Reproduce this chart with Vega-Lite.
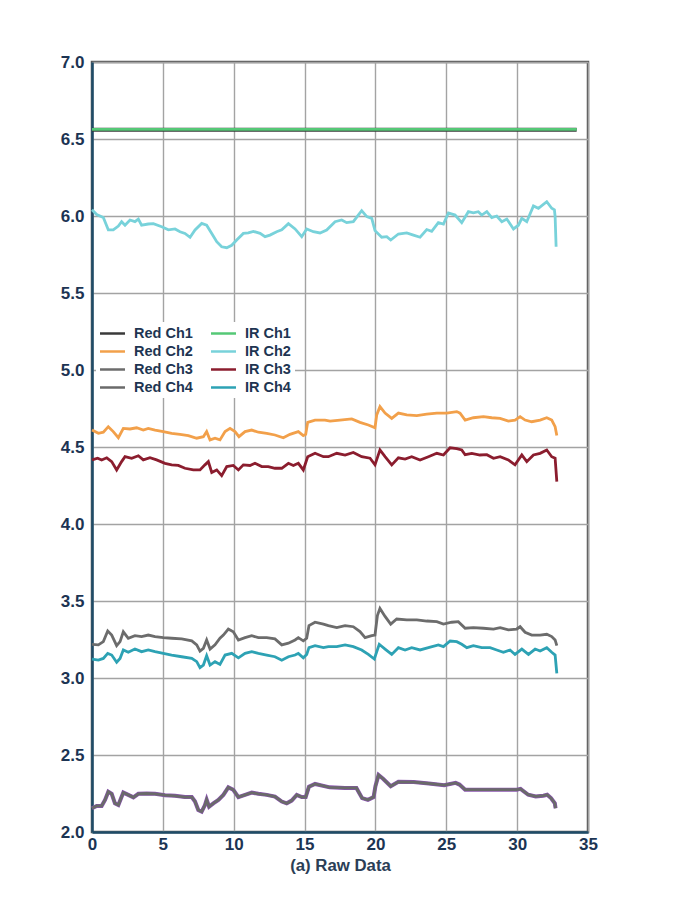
{
  "$schema": "https://vega.github.io/schema/vega-lite/v6.json",
  "autosize": {"type": "none"},
  "padding": {"left": 92, "top": 62, "right": 95, "bottom": 73},
  "width": 496,
  "height": 770,
  "background": "white",
  "data": {
    "values": [
      {"s": "Red Ch1", "t": 0, "v": 6.56}, {"s": "Red Ch1", "t": 34.2, "v": 6.56},
      {"s": "IR Ch1", "t": 0, "v": 6.563}, {"s": "IR Ch1", "t": 34.2, "v": 6.563},

      {"s": "IR Ch2", "t": 0, "v": 6.04}, {"s": "IR Ch2", "t": 0.33, "v": 6.01}, {"s": "IR Ch2", "t": 0.8, "v": 5.99}, {"s": "IR Ch2", "t": 1.15, "v": 5.91},
      {"s": "IR Ch2", "t": 1.5, "v": 5.91}, {"s": "IR Ch2", "t": 1.86, "v": 5.935}, {"s": "IR Ch2", "t": 2.09, "v": 5.963}, {"s": "IR Ch2", "t": 2.33, "v": 5.94},
      {"s": "IR Ch2", "t": 2.68, "v": 5.974}, {"s": "IR Ch2", "t": 3.03, "v": 5.963}, {"s": "IR Ch2", "t": 3.27, "v": 5.98}, {"s": "IR Ch2", "t": 3.5, "v": 5.94},
      {"s": "IR Ch2", "t": 3.97, "v": 5.948}, {"s": "IR Ch2", "t": 4.33, "v": 5.95}, {"s": "IR Ch2", "t": 4.92, "v": 5.93}, {"s": "IR Ch2", "t": 5.39, "v": 5.91},
      {"s": "IR Ch2", "t": 5.86, "v": 5.916}, {"s": "IR Ch2", "t": 6.21, "v": 5.898}, {"s": "IR Ch2", "t": 6.56, "v": 5.887}, {"s": "IR Ch2", "t": 6.92, "v": 5.862},
      {"s": "IR Ch2", "t": 7.27, "v": 5.909}, {"s": "IR Ch2", "t": 7.74, "v": 5.952}, {"s": "IR Ch2", "t": 8.09, "v": 5.94}, {"s": "IR Ch2", "t": 8.45, "v": 5.887},
      {"s": "IR Ch2", "t": 8.8, "v": 5.833}, {"s": "IR Ch2", "t": 9.15, "v": 5.8}, {"s": "IR Ch2", "t": 9.51, "v": 5.794}, {"s": "IR Ch2", "t": 9.86, "v": 5.81},
      {"s": "IR Ch2", "t": 10.21, "v": 5.844}, {"s": "IR Ch2", "t": 10.68, "v": 5.887}, {"s": "IR Ch2", "t": 11.03, "v": 5.89}, {"s": "IR Ch2", "t": 11.39, "v": 5.9},
      {"s": "IR Ch2", "t": 11.86, "v": 5.887}, {"s": "IR Ch2", "t": 12.21, "v": 5.866}, {"s": "IR Ch2", "t": 12.56, "v": 5.876}, {"s": "IR Ch2", "t": 13.03, "v": 5.898},
      {"s": "IR Ch2", "t": 13.39, "v": 5.91}, {"s": "IR Ch2", "t": 13.86, "v": 5.95}, {"s": "IR Ch2", "t": 14.33, "v": 5.916}, {"s": "IR Ch2", "t": 14.8, "v": 5.866},
      {"s": "IR Ch2", "t": 15.15, "v": 5.916}, {"s": "IR Ch2", "t": 15.62, "v": 5.898}, {"s": "IR Ch2", "t": 16.09, "v": 5.89}, {"s": "IR Ch2", "t": 16.56, "v": 5.909},
      {"s": "IR Ch2", "t": 17.15, "v": 5.963}, {"s": "IR Ch2", "t": 17.62, "v": 5.974}, {"s": "IR Ch2", "t": 17.97, "v": 5.957}, {"s": "IR Ch2", "t": 18.44, "v": 5.963},
      {"s": "IR Ch2", "t": 18.79, "v": 6.006}, {"s": "IR Ch2", "t": 19.03, "v": 6.035}, {"s": "IR Ch2", "t": 19.39, "v": 5.996}, {"s": "IR Ch2", "t": 19.74, "v": 5.985},
      {"s": "IR Ch2", "t": 19.97, "v": 5.905}, {"s": "IR Ch2", "t": 20.44, "v": 5.862}, {"s": "IR Ch2", "t": 20.8, "v": 5.866}, {"s": "IR Ch2", "t": 21.08, "v": 5.844},
      {"s": "IR Ch2", "t": 21.62, "v": 5.883}, {"s": "IR Ch2", "t": 22.21, "v": 5.89}, {"s": "IR Ch2", "t": 22.68, "v": 5.876}, {"s": "IR Ch2", "t": 23.15, "v": 5.862},
      {"s": "IR Ch2", "t": 23.62, "v": 5.912}, {"s": "IR Ch2", "t": 23.97, "v": 5.9}, {"s": "IR Ch2", "t": 24.44, "v": 5.957}, {"s": "IR Ch2", "t": 24.8, "v": 5.948},
      {"s": "IR Ch2", "t": 25.15, "v": 6.02}, {"s": "IR Ch2", "t": 25.62, "v": 6.006}, {"s": "IR Ch2", "t": 26.09, "v": 5.957}, {"s": "IR Ch2", "t": 26.56, "v": 6.028},
      {"s": "IR Ch2", "t": 26.91, "v": 6.02}, {"s": "IR Ch2", "t": 27.26, "v": 6.028}, {"s": "IR Ch2", "t": 27.5, "v": 6.006}, {"s": "IR Ch2", "t": 27.86, "v": 6.028},
      {"s": "IR Ch2", "t": 28.21, "v": 5.99}, {"s": "IR Ch2", "t": 28.56, "v": 6.0}, {"s": "IR Ch2", "t": 28.92, "v": 5.963}, {"s": "IR Ch2", "t": 29.27, "v": 5.98},
      {"s": "IR Ch2", "t": 29.74, "v": 5.916}, {"s": "IR Ch2", "t": 30.09, "v": 5.94}, {"s": "IR Ch2", "t": 30.33, "v": 5.985}, {"s": "IR Ch2", "t": 30.68, "v": 5.963},
      {"s": "IR Ch2", "t": 31.15, "v": 6.065}, {"s": "IR Ch2", "t": 31.5, "v": 6.05}, {"s": "IR Ch2", "t": 32.09, "v": 6.093}, {"s": "IR Ch2", "t": 32.44, "v": 6.05},
      {"s": "IR Ch2", "t": 32.63, "v": 6.04}, {"s": "IR Ch2", "t": 32.68, "v": 5.996}, {"s": "IR Ch2", "t": 32.75, "v": 5.8},

      {"s": "Red Ch2", "t": 0, "v": 4.61}, {"s": "Red Ch2", "t": 0.45, "v": 4.589}, {"s": "Red Ch2", "t": 0.8, "v": 4.596}, {"s": "Red Ch2", "t": 1.15, "v": 4.632},
      {"s": "Red Ch2", "t": 1.5, "v": 4.6}, {"s": "Red Ch2", "t": 1.86, "v": 4.56}, {"s": "Red Ch2", "t": 2.21, "v": 4.621}, {"s": "Red Ch2", "t": 2.68, "v": 4.617},
      {"s": "Red Ch2", "t": 3.15, "v": 4.625}, {"s": "Red Ch2", "t": 3.62, "v": 4.61}, {"s": "Red Ch2", "t": 3.97, "v": 4.621}, {"s": "Red Ch2", "t": 4.45, "v": 4.61},
      {"s": "Red Ch2", "t": 5.03, "v": 4.6}, {"s": "Red Ch2", "t": 5.62, "v": 4.589}, {"s": "Red Ch2", "t": 6.21, "v": 4.582}, {"s": "Red Ch2", "t": 6.8, "v": 4.574},
      {"s": "Red Ch2", "t": 7.39, "v": 4.557}, {"s": "Red Ch2", "t": 7.86, "v": 4.567}, {"s": "Red Ch2", "t": 8.09, "v": 4.6}, {"s": "Red Ch2", "t": 8.33, "v": 4.546},
      {"s": "Red Ch2", "t": 8.68, "v": 4.557}, {"s": "Red Ch2", "t": 9.03, "v": 4.546}, {"s": "Red Ch2", "t": 9.39, "v": 4.6}, {"s": "Red Ch2", "t": 9.74, "v": 4.621},
      {"s": "Red Ch2", "t": 10.09, "v": 4.6}, {"s": "Red Ch2", "t": 10.37, "v": 4.567}, {"s": "Red Ch2", "t": 10.8, "v": 4.6}, {"s": "Red Ch2", "t": 11.27, "v": 4.61},
      {"s": "Red Ch2", "t": 11.74, "v": 4.596}, {"s": "Red Ch2", "t": 12.33, "v": 4.589}, {"s": "Red Ch2", "t": 12.91, "v": 4.578}, {"s": "Red Ch2", "t": 13.5, "v": 4.56},
      {"s": "Red Ch2", "t": 13.97, "v": 4.582}, {"s": "Red Ch2", "t": 14.56, "v": 4.6}, {"s": "Red Ch2", "t": 14.91, "v": 4.574}, {"s": "Red Ch2", "t": 15.08, "v": 4.582},
      {"s": "Red Ch2", "t": 15.22, "v": 4.66}, {"s": "Red Ch2", "t": 15.74, "v": 4.675}, {"s": "Red Ch2", "t": 16.44, "v": 4.675}, {"s": "Red Ch2", "t": 16.8, "v": 4.668},
      {"s": "Red Ch2", "t": 17.5, "v": 4.675}, {"s": "Red Ch2", "t": 18.33, "v": 4.682}, {"s": "Red Ch2", "t": 18.91, "v": 4.66}, {"s": "Red Ch2", "t": 19.5, "v": 4.643},
      {"s": "Red Ch2", "t": 19.97, "v": 4.625}, {"s": "Red Ch2", "t": 20.09, "v": 4.708}, {"s": "Red Ch2", "t": 20.32, "v": 4.762}, {"s": "Red Ch2", "t": 20.68, "v": 4.72},
      {"s": "Red Ch2", "t": 21.15, "v": 4.686}, {"s": "Red Ch2", "t": 21.62, "v": 4.72}, {"s": "Red Ch2", "t": 22.21, "v": 4.708}, {"s": "Red Ch2", "t": 22.92, "v": 4.704},
      {"s": "Red Ch2", "t": 23.62, "v": 4.713}, {"s": "Red Ch2", "t": 24.33, "v": 4.72}, {"s": "Red Ch2", "t": 25.03, "v": 4.72}, {"s": "Red Ch2", "t": 25.74, "v": 4.73},
      {"s": "Red Ch2", "t": 25.97, "v": 4.72}, {"s": "Red Ch2", "t": 26.33, "v": 4.675}, {"s": "Red Ch2", "t": 26.91, "v": 4.69}, {"s": "Red Ch2", "t": 27.62, "v": 4.697},
      {"s": "Red Ch2", "t": 28.21, "v": 4.69}, {"s": "Red Ch2", "t": 28.8, "v": 4.686}, {"s": "Red Ch2", "t": 29.38, "v": 4.668}, {"s": "Red Ch2", "t": 29.85, "v": 4.675},
      {"s": "Red Ch2", "t": 30.21, "v": 4.697}, {"s": "Red Ch2", "t": 30.56, "v": 4.675}, {"s": "Red Ch2", "t": 31.03, "v": 4.664}, {"s": "Red Ch2", "t": 31.62, "v": 4.675},
      {"s": "Red Ch2", "t": 32.09, "v": 4.69}, {"s": "Red Ch2", "t": 32.44, "v": 4.675}, {"s": "Red Ch2", "t": 32.68, "v": 4.632}, {"s": "Red Ch2", "t": 32.8, "v": 4.574},

      {"s": "IR Ch3", "t": 0, "v": 4.416}, {"s": "IR Ch3", "t": 0.4, "v": 4.427}, {"s": "IR Ch3", "t": 0.68, "v": 4.416}, {"s": "IR Ch3", "t": 1.04, "v": 4.43},
      {"s": "IR Ch3", "t": 1.39, "v": 4.405}, {"s": "IR Ch3", "t": 1.74, "v": 4.351}, {"s": "IR Ch3", "t": 2.09, "v": 4.405}, {"s": "IR Ch3", "t": 2.33, "v": 4.437},
      {"s": "IR Ch3", "t": 2.8, "v": 4.427}, {"s": "IR Ch3", "t": 3.27, "v": 4.443}, {"s": "IR Ch3", "t": 3.62, "v": 4.416}, {"s": "IR Ch3", "t": 4.09, "v": 4.43},
      {"s": "IR Ch3", "t": 4.56, "v": 4.416}, {"s": "IR Ch3", "t": 5.15, "v": 4.394}, {"s": "IR Ch3", "t": 5.62, "v": 4.384}, {"s": "IR Ch3", "t": 6.09, "v": 4.38},
      {"s": "IR Ch3", "t": 6.56, "v": 4.362}, {"s": "IR Ch3", "t": 7.15, "v": 4.351}, {"s": "IR Ch3", "t": 7.62, "v": 4.351}, {"s": "IR Ch3", "t": 7.97, "v": 4.384},
      {"s": "IR Ch3", "t": 8.21, "v": 4.405}, {"s": "IR Ch3", "t": 8.45, "v": 4.335}, {"s": "IR Ch3", "t": 8.8, "v": 4.351}, {"s": "IR Ch3", "t": 9.15, "v": 4.314},
      {"s": "IR Ch3", "t": 9.51, "v": 4.373}, {"s": "IR Ch3", "t": 9.97, "v": 4.38}, {"s": "IR Ch3", "t": 10.33, "v": 4.351}, {"s": "IR Ch3", "t": 10.68, "v": 4.384},
      {"s": "IR Ch3", "t": 11.15, "v": 4.38}, {"s": "IR Ch3", "t": 11.5, "v": 4.394}, {"s": "IR Ch3", "t": 11.98, "v": 4.373}, {"s": "IR Ch3", "t": 12.44, "v": 4.373},
      {"s": "IR Ch3", "t": 12.91, "v": 4.362}, {"s": "IR Ch3", "t": 13.39, "v": 4.362}, {"s": "IR Ch3", "t": 13.86, "v": 4.394}, {"s": "IR Ch3", "t": 14.21, "v": 4.38},
      {"s": "IR Ch3", "t": 14.56, "v": 4.394}, {"s": "IR Ch3", "t": 14.91, "v": 4.351}, {"s": "IR Ch3", "t": 15.22, "v": 4.437}, {"s": "IR Ch3", "t": 15.74, "v": 4.459},
      {"s": "IR Ch3", "t": 16.33, "v": 4.437}, {"s": "IR Ch3", "t": 16.68, "v": 4.437}, {"s": "IR Ch3", "t": 17.27, "v": 4.459}, {"s": "IR Ch3", "t": 17.86, "v": 4.448},
      {"s": "IR Ch3", "t": 18.44, "v": 4.465}, {"s": "IR Ch3", "t": 19.03, "v": 4.437}, {"s": "IR Ch3", "t": 19.62, "v": 4.427}, {"s": "IR Ch3", "t": 19.97, "v": 4.384},
      {"s": "IR Ch3", "t": 20.32, "v": 4.481}, {"s": "IR Ch3", "t": 20.68, "v": 4.437}, {"s": "IR Ch3", "t": 21.15, "v": 4.384}, {"s": "IR Ch3", "t": 21.62, "v": 4.43},
      {"s": "IR Ch3", "t": 22.09, "v": 4.422}, {"s": "IR Ch3", "t": 22.56, "v": 4.437}, {"s": "IR Ch3", "t": 23.15, "v": 4.416}, {"s": "IR Ch3", "t": 23.74, "v": 4.437},
      {"s": "IR Ch3", "t": 24.33, "v": 4.459}, {"s": "IR Ch3", "t": 24.8, "v": 4.448}, {"s": "IR Ch3", "t": 25.27, "v": 4.495}, {"s": "IR Ch3", "t": 25.74, "v": 4.49},
      {"s": "IR Ch3", "t": 26.09, "v": 4.481}, {"s": "IR Ch3", "t": 26.33, "v": 4.45}, {"s": "IR Ch3", "t": 26.8, "v": 4.459}, {"s": "IR Ch3", "t": 27.38, "v": 4.448},
      {"s": "IR Ch3", "t": 27.86, "v": 4.45}, {"s": "IR Ch3", "t": 28.33, "v": 4.427}, {"s": "IR Ch3", "t": 28.8, "v": 4.437}, {"s": "IR Ch3", "t": 29.38, "v": 4.416},
      {"s": "IR Ch3", "t": 29.85, "v": 4.384}, {"s": "IR Ch3", "t": 30.33, "v": 4.448}, {"s": "IR Ch3", "t": 30.68, "v": 4.405}, {"s": "IR Ch3", "t": 31.15, "v": 4.448},
      {"s": "IR Ch3", "t": 31.62, "v": 4.459}, {"s": "IR Ch3", "t": 32.09, "v": 4.481}, {"s": "IR Ch3", "t": 32.44, "v": 4.437}, {"s": "IR Ch3", "t": 32.68, "v": 4.427},
      {"s": "IR Ch3", "t": 32.8, "v": 4.275},

      {"s": "Red Ch3", "t": 0, "v": 3.219}, {"s": "Red Ch3", "t": 0.45, "v": 3.215}, {"s": "Red Ch3", "t": 0.8, "v": 3.236}, {"s": "Red Ch3", "t": 1.11, "v": 3.305},
      {"s": "Red Ch3", "t": 1.39, "v": 3.279}, {"s": "Red Ch3", "t": 1.74, "v": 3.21}, {"s": "Red Ch3", "t": 1.98, "v": 3.236}, {"s": "Red Ch3", "t": 2.21, "v": 3.3},
      {"s": "Red Ch3", "t": 2.56, "v": 3.258}, {"s": "Red Ch3", "t": 3.03, "v": 3.275}, {"s": "Red Ch3", "t": 3.5, "v": 3.269}, {"s": "Red Ch3", "t": 3.97, "v": 3.279},
      {"s": "Red Ch3", "t": 4.45, "v": 3.269}, {"s": "Red Ch3", "t": 5.03, "v": 3.262}, {"s": "Red Ch3", "t": 5.62, "v": 3.258}, {"s": "Red Ch3", "t": 6.33, "v": 3.254},
      {"s": "Red Ch3", "t": 7.04, "v": 3.241}, {"s": "Red Ch3", "t": 7.39, "v": 3.215}, {"s": "Red Ch3", "t": 7.62, "v": 3.175}, {"s": "Red Ch3", "t": 7.86, "v": 3.193},
      {"s": "Red Ch3", "t": 8.09, "v": 3.247}, {"s": "Red Ch3", "t": 8.33, "v": 3.188}, {"s": "Red Ch3", "t": 8.68, "v": 3.215}, {"s": "Red Ch3", "t": 9.03, "v": 3.258},
      {"s": "Red Ch3", "t": 9.27, "v": 3.279}, {"s": "Red Ch3", "t": 9.62, "v": 3.318}, {"s": "Red Ch3", "t": 9.97, "v": 3.3}, {"s": "Red Ch3", "t": 10.33, "v": 3.247},
      {"s": "Red Ch3", "t": 10.8, "v": 3.262}, {"s": "Red Ch3", "t": 11.27, "v": 3.275}, {"s": "Red Ch3", "t": 11.74, "v": 3.262}, {"s": "Red Ch3", "t": 12.33, "v": 3.262},
      {"s": "Red Ch3", "t": 12.91, "v": 3.254}, {"s": "Red Ch3", "t": 13.39, "v": 3.215}, {"s": "Red Ch3", "t": 13.86, "v": 3.226}, {"s": "Red Ch3", "t": 14.33, "v": 3.247},
      {"s": "Red Ch3", "t": 14.56, "v": 3.262}, {"s": "Red Ch3", "t": 14.91, "v": 3.241}, {"s": "Red Ch3", "t": 15.15, "v": 3.258}, {"s": "Red Ch3", "t": 15.31, "v": 3.34},
      {"s": "Red Ch3", "t": 15.74, "v": 3.362}, {"s": "Red Ch3", "t": 16.33, "v": 3.35}, {"s": "Red Ch3", "t": 16.68, "v": 3.34}, {"s": "Red Ch3", "t": 17.27, "v": 3.327},
      {"s": "Red Ch3", "t": 17.86, "v": 3.34}, {"s": "Red Ch3", "t": 18.44, "v": 3.333}, {"s": "Red Ch3", "t": 18.91, "v": 3.301}, {"s": "Red Ch3", "t": 19.27, "v": 3.262},
      {"s": "Red Ch3", "t": 19.74, "v": 3.275}, {"s": "Red Ch3", "t": 19.97, "v": 3.279}, {"s": "Red Ch3", "t": 20.14, "v": 3.405}, {"s": "Red Ch3", "t": 20.32, "v": 3.452},
      {"s": "Red Ch3", "t": 20.68, "v": 3.4}, {"s": "Red Ch3", "t": 21.08, "v": 3.35}, {"s": "Red Ch3", "t": 21.5, "v": 3.383}, {"s": "Red Ch3", "t": 22.21, "v": 3.377},
      {"s": "Red Ch3", "t": 22.92, "v": 3.377}, {"s": "Red Ch3", "t": 23.62, "v": 3.37}, {"s": "Red Ch3", "t": 24.33, "v": 3.366}, {"s": "Red Ch3", "t": 24.8, "v": 3.35},
      {"s": "Red Ch3", "t": 25.38, "v": 3.362}, {"s": "Red Ch3", "t": 25.85, "v": 3.366}, {"s": "Red Ch3", "t": 26.33, "v": 3.323}, {"s": "Red Ch3", "t": 26.91, "v": 3.327},
      {"s": "Red Ch3", "t": 27.62, "v": 3.323}, {"s": "Red Ch3", "t": 28.33, "v": 3.318}, {"s": "Red Ch3", "t": 28.8, "v": 3.327}, {"s": "Red Ch3", "t": 29.38, "v": 3.312},
      {"s": "Red Ch3", "t": 29.97, "v": 3.318}, {"s": "Red Ch3", "t": 30.21, "v": 3.333}, {"s": "Red Ch3", "t": 30.56, "v": 3.297}, {"s": "Red Ch3", "t": 31.03, "v": 3.279},
      {"s": "Red Ch3", "t": 31.62, "v": 3.279}, {"s": "Red Ch3", "t": 32.09, "v": 3.284}, {"s": "Red Ch3", "t": 32.44, "v": 3.269}, {"s": "Red Ch3", "t": 32.68, "v": 3.247},
      {"s": "Red Ch3", "t": 32.8, "v": 3.21},

      {"s": "IR Ch4", "t": 0, "v": 3.123}, {"s": "IR Ch4", "t": 0.45, "v": 3.116}, {"s": "IR Ch4", "t": 0.8, "v": 3.127}, {"s": "IR Ch4", "t": 1.11, "v": 3.16},
      {"s": "IR Ch4", "t": 1.39, "v": 3.149}, {"s": "IR Ch4", "t": 1.74, "v": 3.102}, {"s": "IR Ch4", "t": 1.98, "v": 3.127}, {"s": "IR Ch4", "t": 2.21, "v": 3.182},
      {"s": "IR Ch4", "t": 2.56, "v": 3.167}, {"s": "IR Ch4", "t": 3.03, "v": 3.188}, {"s": "IR Ch4", "t": 3.5, "v": 3.171}, {"s": "IR Ch4", "t": 3.97, "v": 3.182},
      {"s": "IR Ch4", "t": 4.45, "v": 3.171}, {"s": "IR Ch4", "t": 5.03, "v": 3.16}, {"s": "IR Ch4", "t": 5.62, "v": 3.149}, {"s": "IR Ch4", "t": 6.33, "v": 3.138},
      {"s": "IR Ch4", "t": 7.04, "v": 3.127}, {"s": "IR Ch4", "t": 7.39, "v": 3.106}, {"s": "IR Ch4", "t": 7.62, "v": 3.067}, {"s": "IR Ch4", "t": 7.86, "v": 3.084},
      {"s": "IR Ch4", "t": 8.09, "v": 3.145}, {"s": "IR Ch4", "t": 8.33, "v": 3.084}, {"s": "IR Ch4", "t": 8.68, "v": 3.106}, {"s": "IR Ch4", "t": 9.03, "v": 3.088},
      {"s": "IR Ch4", "t": 9.39, "v": 3.149}, {"s": "IR Ch4", "t": 9.86, "v": 3.16}, {"s": "IR Ch4", "t": 10.33, "v": 3.131}, {"s": "IR Ch4", "t": 10.8, "v": 3.16},
      {"s": "IR Ch4", "t": 11.27, "v": 3.171}, {"s": "IR Ch4", "t": 11.74, "v": 3.16}, {"s": "IR Ch4", "t": 12.33, "v": 3.149}, {"s": "IR Ch4", "t": 12.91, "v": 3.138},
      {"s": "IR Ch4", "t": 13.39, "v": 3.116}, {"s": "IR Ch4", "t": 13.86, "v": 3.138}, {"s": "IR Ch4", "t": 14.33, "v": 3.149}, {"s": "IR Ch4", "t": 14.56, "v": 3.16},
      {"s": "IR Ch4", "t": 14.91, "v": 3.131}, {"s": "IR Ch4", "t": 15.15, "v": 3.153}, {"s": "IR Ch4", "t": 15.31, "v": 3.197}, {"s": "IR Ch4", "t": 15.74, "v": 3.21},
      {"s": "IR Ch4", "t": 16.33, "v": 3.197}, {"s": "IR Ch4", "t": 16.68, "v": 3.204}, {"s": "IR Ch4", "t": 17.27, "v": 3.204}, {"s": "IR Ch4", "t": 17.86, "v": 3.215},
      {"s": "IR Ch4", "t": 18.44, "v": 3.204}, {"s": "IR Ch4", "t": 19.03, "v": 3.182}, {"s": "IR Ch4", "t": 19.5, "v": 3.153}, {"s": "IR Ch4", "t": 19.92, "v": 3.123},
      {"s": "IR Ch4", "t": 20.27, "v": 3.219}, {"s": "IR Ch4", "t": 20.68, "v": 3.188}, {"s": "IR Ch4", "t": 21.15, "v": 3.153}, {"s": "IR Ch4", "t": 21.62, "v": 3.197},
      {"s": "IR Ch4", "t": 22.09, "v": 3.182}, {"s": "IR Ch4", "t": 22.56, "v": 3.197}, {"s": "IR Ch4", "t": 23.15, "v": 3.182}, {"s": "IR Ch4", "t": 23.74, "v": 3.197},
      {"s": "IR Ch4", "t": 24.44, "v": 3.215}, {"s": "IR Ch4", "t": 24.8, "v": 3.204}, {"s": "IR Ch4", "t": 25.27, "v": 3.24}, {"s": "IR Ch4", "t": 25.74, "v": 3.236},
      {"s": "IR Ch4", "t": 26.09, "v": 3.219}, {"s": "IR Ch4", "t": 26.45, "v": 3.197}, {"s": "IR Ch4", "t": 26.91, "v": 3.21}, {"s": "IR Ch4", "t": 27.5, "v": 3.197},
      {"s": "IR Ch4", "t": 28.09, "v": 3.197}, {"s": "IR Ch4", "t": 28.56, "v": 3.182}, {"s": "IR Ch4", "t": 29.03, "v": 3.167}, {"s": "IR Ch4", "t": 29.5, "v": 3.182},
      {"s": "IR Ch4", "t": 29.85, "v": 3.153}, {"s": "IR Ch4", "t": 30.33, "v": 3.188}, {"s": "IR Ch4", "t": 30.8, "v": 3.153}, {"s": "IR Ch4", "t": 31.27, "v": 3.188},
      {"s": "IR Ch4", "t": 31.62, "v": 3.175}, {"s": "IR Ch4", "t": 32.09, "v": 3.197}, {"s": "IR Ch4", "t": 32.44, "v": 3.167}, {"s": "IR Ch4", "t": 32.68, "v": 3.149},
      {"s": "IR Ch4", "t": 32.8, "v": 3.03},

      {"s": "Red Ch4", "t": 0, "v": 2.154}, {"s": "Red Ch4", "t": 0.33, "v": 2.169}, {"s": "Red Ch4", "t": 0.68, "v": 2.169}, {"s": "Red Ch4", "t": 0.92, "v": 2.208},
      {"s": "Red Ch4", "t": 1.15, "v": 2.262}, {"s": "Red Ch4", "t": 1.39, "v": 2.248}, {"s": "Red Ch4", "t": 1.62, "v": 2.186}, {"s": "Red Ch4", "t": 1.86, "v": 2.175},
      {"s": "Red Ch4", "t": 2.21, "v": 2.256}, {"s": "Red Ch4", "t": 2.56, "v": 2.241}, {"s": "Red Ch4", "t": 2.92, "v": 2.225}, {"s": "Red Ch4", "t": 3.27, "v": 2.248},
      {"s": "Red Ch4", "t": 3.86, "v": 2.25}, {"s": "Red Ch4", "t": 4.45, "v": 2.248}, {"s": "Red Ch4", "t": 5.15, "v": 2.239}, {"s": "Red Ch4", "t": 5.86, "v": 2.235},
      {"s": "Red Ch4", "t": 6.56, "v": 2.227}, {"s": "Red Ch4", "t": 7.04, "v": 2.227}, {"s": "Red Ch4", "t": 7.27, "v": 2.198}, {"s": "Red Ch4", "t": 7.5, "v": 2.143},
      {"s": "Red Ch4", "t": 7.74, "v": 2.132}, {"s": "Red Ch4", "t": 7.97, "v": 2.175}, {"s": "Red Ch4", "t": 8.09, "v": 2.21}, {"s": "Red Ch4", "t": 8.26, "v": 2.164},
      {"s": "Red Ch4", "t": 8.56, "v": 2.186}, {"s": "Red Ch4", "t": 8.92, "v": 2.208}, {"s": "Red Ch4", "t": 9.27, "v": 2.241}, {"s": "Red Ch4", "t": 9.62, "v": 2.29},
      {"s": "Red Ch4", "t": 9.97, "v": 2.274}, {"s": "Red Ch4", "t": 10.33, "v": 2.227}, {"s": "Red Ch4", "t": 10.8, "v": 2.241}, {"s": "Red Ch4", "t": 11.27, "v": 2.256},
      {"s": "Red Ch4", "t": 11.74, "v": 2.248}, {"s": "Red Ch4", "t": 12.33, "v": 2.241}, {"s": "Red Ch4", "t": 12.91, "v": 2.23}, {"s": "Red Ch4", "t": 13.39, "v": 2.198},
      {"s": "Red Ch4", "t": 13.74, "v": 2.186}, {"s": "Red Ch4", "t": 14.09, "v": 2.204}, {"s": "Red Ch4", "t": 14.45, "v": 2.241}, {"s": "Red Ch4", "t": 14.8, "v": 2.227},
      {"s": "Red Ch4", "t": 15.08, "v": 2.227}, {"s": "Red Ch4", "t": 15.31, "v": 2.294}, {"s": "Red Ch4", "t": 15.74, "v": 2.312}, {"s": "Red Ch4", "t": 16.77, "v": 2.29},
      {"s": "Red Ch4", "t": 17.85, "v": 2.286}, {"s": "Red Ch4", "t": 18.66, "v": 2.286}, {"s": "Red Ch4", "t": 19.06, "v": 2.22}, {"s": "Red Ch4", "t": 19.47, "v": 2.209},
      {"s": "Red Ch4", "t": 19.87, "v": 2.227}, {"s": "Red Ch4", "t": 20.0, "v": 2.297}, {"s": "Red Ch4", "t": 20.22, "v": 2.37}, {"s": "Red Ch4", "t": 20.54, "v": 2.346},
      {"s": "Red Ch4", "t": 21.08, "v": 2.297}, {"s": "Red Ch4", "t": 21.62, "v": 2.326}, {"s": "Red Ch4", "t": 22.7, "v": 2.324}, {"s": "Red Ch4", "t": 23.77, "v": 2.315},
      {"s": "Red Ch4", "t": 24.85, "v": 2.304}, {"s": "Red Ch4", "t": 25.66, "v": 2.319}, {"s": "Red Ch4", "t": 25.93, "v": 2.308}, {"s": "Red Ch4", "t": 26.33, "v": 2.275},
      {"s": "Red Ch4", "t": 27.27, "v": 2.275}, {"s": "Red Ch4", "t": 28.62, "v": 2.275}, {"s": "Red Ch4", "t": 29.97, "v": 2.275}, {"s": "Red Ch4", "t": 30.24, "v": 2.28},
      {"s": "Red Ch4", "t": 30.78, "v": 2.242}, {"s": "Red Ch4", "t": 31.31, "v": 2.231}, {"s": "Red Ch4", "t": 31.85, "v": 2.236}, {"s": "Red Ch4", "t": 32.12, "v": 2.242},
      {"s": "Red Ch4", "t": 32.39, "v": 2.22}, {"s": "Red Ch4", "t": 32.66, "v": 2.187}, {"s": "Red Ch4", "t": 32.71, "v": 2.154}
    ]
  },
  "encoding": {
    "x": {
      "field": "t",
      "type": "quantitative",
      "scale": {"domain": [0, 35], "nice": false},
      "axis": {"values": [0, 5, 10, 15, 20, 25, 30, 35], "title": "(a) Raw Data", "titlePadding": 5}
    },
    "y": {
      "field": "v",
      "type": "quantitative",
      "scale": {"domain": [2, 7], "nice": false, "zero": false},
      "axis": {"values": [2, 2.5, 3, 3.5, 4, 4.5, 5, 5.5, 6, 6.5, 7], "format": ".1f", "title": null}
    }
  },
  "layer": [
    {
      "transform": [{"filter": "datum.s === 'Red Ch4'"}],
      "mark": {"type": "line", "strokeWidth": 4, "color": "#8a55b0"},
      "encoding": {"detail": {"field": "s"}}
    },
    {
      "transform": [{"filter": "datum.s === 'Red Ch1'"}],
      "mark": {"type": "line", "strokeWidth": 4.2},
      "encoding": {
        "color": {"field": "s", "type": "nominal"}
      }
    },
    {
      "transform": [{"filter": "datum.s !== 'Red Ch1'"}],
      "mark": {"type": "line", "strokeWidth": 2.8},
      "encoding": {
        "color": {
          "field": "s",
          "type": "nominal",
          "scale": {
            "domain": ["Red Ch1", "IR Ch1", "Red Ch2", "IR Ch2", "Red Ch3", "IR Ch3", "Red Ch4", "IR Ch4"],
            "range": ["#3a3a3a", "#55c876", "#f2a04a", "#78d2da", "#6c6c6c", "#8b1d2e", "#6a6a6a", "#2da2b4"]
          },
          "legend": {
            "title": null,
            "orient": "none",
            "legendX": 4,
            "legendY": 260,
            "columns": 2,
            "direction": "horizontal",
            "padding": 4,
            "fillColor": "white",
            "symbolType": "M-2,0H2",
            "symbolSize": 156,
            "symbolStrokeWidth": 2.5,
            "symbolOffset": 5,
            "labelOffset": 14,
            "rowPadding": 3,
            "columnPadding": 13,
            "labelFont": "Liberation Sans",
            "labelFontSize": 14.5,
            "labelFontWeight": "bold",
            "labelColor": "#1e3552"
          }
        }
      }
    }
  ],
  "config": {
    "font": "Liberation Sans",
    "view": {"stroke": "#555555", "strokeWidth": 2.5},
    "axis": {
      "ticks": false,
      "labelFlush": false,
      "domainColor": "#1f4c68",
      "domainWidth": 2.5,
      "gridColor": "#a3a3a3",
      "gridWidth": 1.4,
      "labelFontSize": 17,
      "labelFontWeight": "bold",
      "labelColor": "#1c3453",
      "titleFontSize": 16.8,
      "titleFontWeight": "bold",
      "titleColor": "#2b3e56"
    },
    "axisX": {"labelPadding": 4},
    "axisY": {"labelPadding": 8}
  }
}
